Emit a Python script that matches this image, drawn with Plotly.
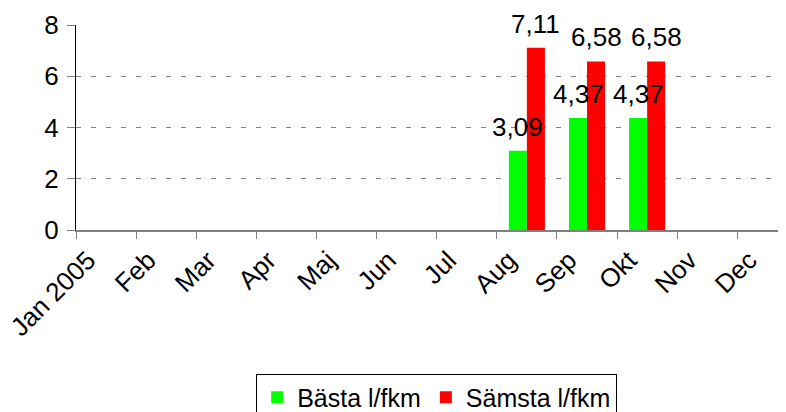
import plotly.graph_objects as go

months = ["Jan 2005", "Feb", "Mar", "Apr", "Maj", "Jun", "Jul", "Aug", "Sep", "Okt", "Nov", "Dec"]
basta = [None, None, None, None, None, None, None, 3.09, 4.37, 4.37, None, None]
samsta = [None, None, None, None, None, None, None, 7.11, 6.58, 6.58, None, None]
names = ["Bästa l/fkm", "Sämsta l/fkm"]
colors = ["#00FF00", "#FF0000"]

FONT = "Liberation Sans, Arial, sans-serif"
FS = 26

fig = go.Figure()
for name, vals, col in zip(names, [basta, samsta], colors):
    fig.add_trace(go.Bar(x=months, y=vals, name=name, marker=dict(color=col, line=dict(width=0))))

def fmt(v):
    return f"{v:.2f}".replace(".", ",")

annotations = []
for shift, vals in zip([-9, 9], [basta, samsta]):
    for m, v in zip(months, vals):
        if v is None:
            continue
        annotations.append(dict(x=m, y=v, xref="x", yref="y", text=fmt(v), showarrow=False,
                                xshift=shift, yshift=7, yanchor="bottom",
                                font=dict(family=FONT, size=FS, color="black")))

# page body has an 8px default margin, so the figure is sized 8px smaller
fig.update_layout(
    width=778, height=404,
    margin=dict(l=68, r=0, t=17, b=182, autoexpand=False),
    paper_bgcolor="white", plot_bgcolor="white",
    font=dict(family=FONT, size=FS, color="black"),
    barmode="group", bargap=0.4, bargroupgap=0,
    annotations=annotations,
    showlegend=True,
    legend=dict(orientation="h", x=0.508, xanchor="center", y=-0.70, yanchor="top",
                bordercolor="black", borderwidth=1, bgcolor="white",
                font=dict(family=FONT, size=25), itemsizing="constant",
                tracegroupgap=0, itemwidth=30),
)
fig.update_xaxes(type="category", range=[-0.5, 11.31], tickson="boundaries",
                 ticks="outside", ticklen=7, tickcolor="#808080", tickwidth=1,
                 showline=True, linecolor="#808080", linewidth=1.5, automargin=False,
                 tickangle=-45, showgrid=False, tickfont=dict(family=FONT, size=FS),
                 ticklabelshift=-18, ticklabelstandoff=3)
fig.update_yaxes(range=[0, 8], dtick=2, showgrid=True, gridcolor="#808080", griddash="5px,10px",
                 gridwidth=1.3, ticks="outside", ticklen=8, tickcolor="#808080",
                 showline=True, linecolor="black", linewidth=1, zeroline=False, automargin=False,
                 tickfont=dict(family=FONT, size=FS), ticklabelstandoff=3)

fig.write_html("out.html")
